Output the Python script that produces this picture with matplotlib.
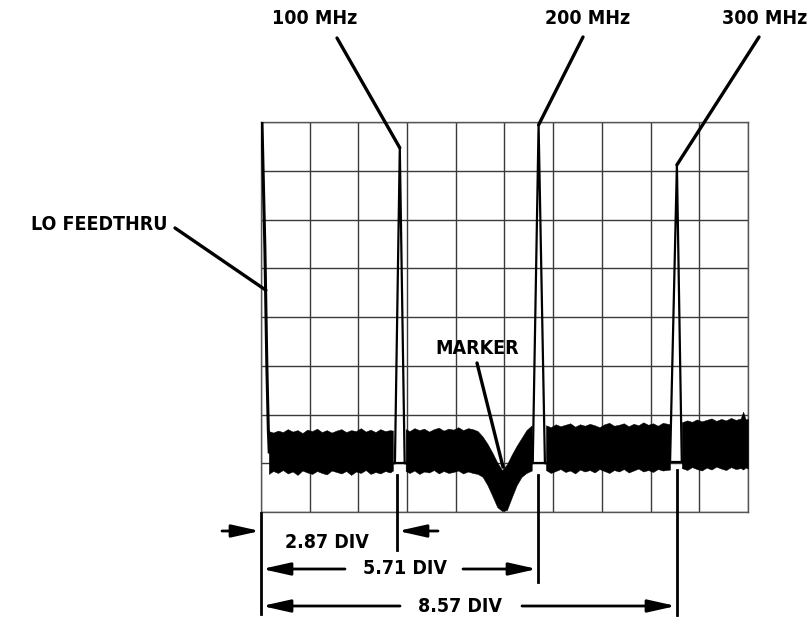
import numpy as np
import matplotlib
matplotlib.use("Agg")
import matplotlib.pyplot as plt
from matplotlib.transforms import Affine2D

plt.rcParams['font.family'] = ['DejaVu Sans']

# --- trace data (divisions) ---
# LO feedthru at left edge
lo_x = [0.02, 0.08, 0.12, 0.15, 0.17]
lo_y = [8.0, 5.4, 3.0, 1.7, 1.2]

# comb peaks: apex, feet of triangle, gap in noise, floor level
peak_x = [2.85, 5.70, 8.54]
peak_top = [7.47, 7.94, 7.12]
foot_l = [2.75, 5.58, 8.40]
foot_r = [2.95, 5.83, 8.64]
gap_l = [2.71, 5.56, 8.40]
gap_r = [2.97, 5.85, 8.64]
floor = [1.0, 1.0, 1.03]
peak_labels = ['100 MHz', '200 MHz', '300 MHz']
dim_labels = ['2.87 DIV', '5.71 DIV', '8.57 DIV']

# noise band envelopes, four segments
seg1_x = [0.16, 0.25, 0.35, 0.45, 0.55, 0.65, 0.75, 0.85, 0.95, 1.05, 1.15, 1.25, 1.35, 1.45,
          1.55, 1.65, 1.75, 1.85, 1.95, 2.05, 2.15, 2.25, 2.35, 2.45, 2.55, 2.65, 2.71]
seg1_hi = [1.66, 1.63, 1.67, 1.64, 1.70, 1.65, 1.68, 1.62, 1.69, 1.66, 1.71, 1.64, 1.68, 1.63,
           1.67, 1.70, 1.64, 1.68, 1.66, 1.72, 1.65, 1.69, 1.64, 1.70, 1.66, 1.68, 1.67]
seg1_lo = [0.78, 0.84, 0.80, 0.86, 0.79, 0.83, 0.76, 0.85, 0.81, 0.78, 0.84, 0.80, 0.77, 0.85,
           0.82, 0.79, 0.84, 0.76, 0.83, 0.80, 0.86, 0.78, 0.82, 0.79, 0.84, 0.81, 0.85]

seg2_x = [2.97, 3.05, 3.15, 3.25, 3.35, 3.45, 3.55, 3.65, 3.75, 3.85, 3.95, 4.05, 4.15, 4.25,
          4.35, 4.45, 4.55, 4.65, 4.75, 4.85, 4.95, 5.05, 5.15, 5.25, 5.35, 5.45, 5.56]
seg2_hi = [1.70, 1.66, 1.72, 1.68, 1.71, 1.65, 1.70, 1.73, 1.67, 1.71, 1.69, 1.74, 1.68, 1.72,
           1.70, 1.66, 1.55, 1.40, 1.22, 1.02, 0.86, 0.98, 1.18, 1.36, 1.52, 1.68, 1.78]
seg2_lo = [0.84, 0.80, 0.85, 0.78, 0.83, 0.81, 0.86, 0.79, 0.84, 0.80, 0.82, 0.85, 0.79, 0.83,
           0.80, 0.78, 0.72, 0.55, 0.33, 0.10, 0.02, 0.04, 0.30, 0.55, 0.72, 0.80, 0.85]

seg3_x = [5.85, 5.95, 6.05, 6.15, 6.25, 6.35, 6.45, 6.55, 6.65, 6.75, 6.85, 6.95, 7.05, 7.15,
          7.25, 7.35, 7.45, 7.55, 7.65, 7.75, 7.85, 7.95, 8.05, 8.15, 8.25, 8.40]
seg3_hi = [1.78, 1.74, 1.80, 1.76, 1.79, 1.82, 1.75, 1.80, 1.77, 1.81, 1.78, 1.74, 1.80, 1.83,
           1.77, 1.79, 1.82, 1.76, 1.81, 1.78, 1.84, 1.79, 1.82, 1.77, 1.83, 1.80]
seg3_lo = [0.86, 0.80, 0.84, 0.88, 0.82, 0.85, 0.79, 0.87, 0.83, 0.86, 0.81, 0.88, 0.84, 0.80,
           0.86, 0.83, 0.88, 0.81, 0.85, 0.89, 0.83, 0.86, 0.82, 0.88, 0.85, 0.87]

seg4_x = [8.64, 8.75, 8.85, 8.95, 9.05, 9.15, 9.25, 9.35, 9.45, 9.55, 9.65, 9.75, 9.85, 9.90,
          9.95, 10.0]
seg4_hi = [1.84, 1.88, 1.85, 1.90, 1.86, 1.89, 1.92, 1.87, 1.91, 1.88, 1.93, 1.89, 1.92, 2.06,
           1.90, 1.91]
seg4_lo = [0.90, 0.86, 0.92, 0.88, 0.85, 0.91, 0.87, 0.93, 0.89, 0.86, 0.92, 0.88, 0.90, 0.87,
           0.91, 0.89]

W, H = 811, 620
fig = plt.figure(figsize=(W / 100, H / 100), dpi=100)
ax = fig.add_axes([261 / W, 1 - 512 / H, 487 / W, 390 / H])
# pixel coords (origin top-left) for the callouts around the screen
pix = Affine2D().scale(1 / W, -1 / H).translate(0, 1) + fig.transFigure

ax.set_xlim(0, 10)
ax.set_ylim(0, 8)
ax.set_xticks(range(11))
ax.set_yticks(range(9))
ax.tick_params(length=0, labelbottom=False, labelleft=False)
ax.grid(True, color='#3a3a3a', lw=1.0)
for s in ax.spines.values():
    s.set_color('#555555')
    s.set_linewidth(1.0)

# noise band
for xs, hi, lo in [(seg1_x, seg1_hi, seg1_lo), (seg2_x, seg2_hi, seg2_lo),
                   (seg3_x, seg3_hi, seg3_lo), (seg4_x, seg4_hi, seg4_lo)]:
    ax.fill_between(xs, lo, hi, color='black', lw=0.3, edgecolor='black', zorder=3)

# LO feedthru
ax.plot(lo_x, lo_y, color='black', lw=2.2, zorder=4, solid_capstyle='butt')

# peaks
for i in range(3):
    ax.plot([gap_l[i], foot_l[i], peak_x[i], foot_r[i], gap_r[i]],
            [floor[i], floor[i], peak_top[i], floor[i], floor[i]],
            color='black', lw=1.6, zorder=4)
    ax.plot([foot_l[i], foot_r[i]], [floor[i], floor[i]], color='black', lw=1.6, zorder=4)

font = dict(fontsize=14, fontweight='bold', fontstretch='condensed', color='black')
line = dict(arrowstyle='-', lw=2.4, color='black', shrinkA=0, shrinkB=0)

# peak callouts
lab_pos = [(315, 18), (588, 18), (765, 18)]
lead_start = [(337, 38), (583, 37), (759, 37)]
for i in range(3):
    fig.text(*lab_pos[i], peak_labels[i], transform=pix, ha='center', va='center', **font)
    ax.annotate('', xy=(peak_x[i], peak_top[i]), xycoords='data',
                xytext=lead_start[i], textcoords=pix, arrowprops=line, annotation_clip=False)

fig.text(99, 224, 'LO FEEDTHRU', transform=pix, ha='center', va='center', **font)
ax.annotate('', xy=(0.10, 4.55), xycoords='data', xytext=(175, 228), textcoords=pix,
            arrowprops=line, annotation_clip=False)

fig.text(477, 348, 'MARKER', transform=pix, ha='center', va='center', **font)
ax.annotate('', xy=(4.97, 0.92), xycoords='data', xytext=(477, 363), textcoords=pix,
            arrowprops=line, annotation_clip=False)

# dimension lines below the screen
ext = [(261, 513, 614), (397, 475, 550), (538, 475, 582), (677, 470, 615)]
for x, y0, y1 in ext:
    fig.add_artist(plt.Line2D([x, x], [y0, y1], transform=pix, color='black', lw=2.0))

arrow = dict(arrowstyle='-|>,head_length=1.7,head_width=0.38', lw=2.0, color='black',
             shrinkA=0, shrinkB=0, mutation_scale=10)
arrows = [((222, 531), (260, 531)), ((438, 531), (398, 531)),
          ((345, 569), (262, 569)), ((463, 569), (537, 569)),
          ((400, 606), (262, 606)), ((522, 606), (676, 606))]
for a, b in arrows:
    fig.add_artist(matplotlib.patches.FancyArrowPatch(a, b, transform=pix, **arrow))

dim_pos = [(327, 543), (405, 569), (460, 606)]
for (x, y), t in zip(dim_pos, dim_labels):
    fig.text(x, y, t, transform=pix, ha='center', va='center', **font)

fig.savefig('out.png', dpi=100)
